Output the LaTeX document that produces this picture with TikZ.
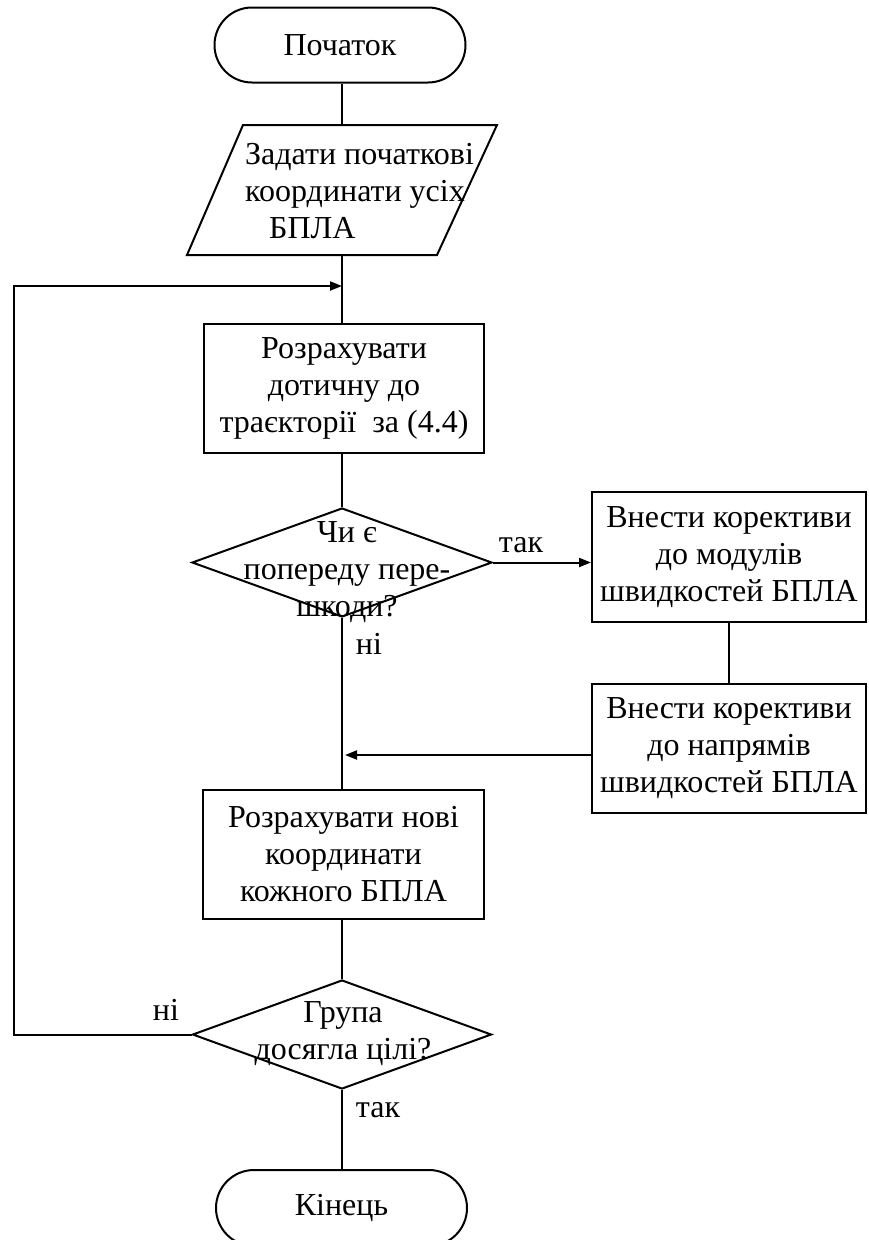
\documentclass[tikz,border=0pt]{standalone}
\usepackage{fontspec}
\setmainfont{Liberation Serif}
\newfontfamily\tnr{Liberation Serif}
\usetikzlibrary{shapes.geometric,shapes.misc,arrows.meta}
\begin{document}
\begin{tikzpicture}[x=1pt,y=-1pt,
  every node/.style={font=\tnr\fontsize{32}{37}\selectfont},
  line/.style={line width=2pt},
  arr/.style={line width=2pt,-{Triangle[length=12pt,width=9pt]}},
  term/.style={rounded rectangle,draw,line width=2pt,minimum width=251pt,minimum height=75pt,inner sep=0pt},
  proc/.style={rectangle,draw,line width=2pt,align=center,inner sep=0pt},
  dia/.style={diamond,draw,line width=2pt,inner sep=0pt},
  txt/.style={align=center,inner sep=0pt},
  lbl/.style={inner sep=0pt}]
\useasboundingbox (0,0) rectangle (868,1240);
% start
\node[term] (start) at (340,45) {Початок};
% input/output parallelogram
\draw[line] (243,125) -- (497,125) -- (437,255) -- (187,255) -- cycle;
\coordinate (iotop) at (342,125);
\coordinate (iobot) at (342,255);
\node[txt,align=left,anchor=west] (iotext) at (245,191) {Задати початкові\\координати усіх\\\hspace*{24pt}БПЛА};
% process 1
\node[proc,minimum width=280pt,minimum height=129pt] (r1) at (344,388.5) {Розрахувати\\дотичну до\\траєкторії\ \ за (4.4)};
% decision 1
\node[dia,minimum width=300pt,minimum height=109pt] (d1) at (342,562.5) {};
\node[txt] (d1text) at (347,572) {Чи є\\попереду пере-\\шкоди?};
% process 2 and 3
\node[proc,minimum width=274pt,minimum height=130pt] (r2) at (729,557) {Внести корективи\\до модулів\\швидкостей БПЛА};
\node[proc,minimum width=274pt,minimum height=129pt] (r3) at (729,748.5) {Внести корективи\\до напрямів\\швидкостей БПЛА};
% process 4
\node[proc,minimum width=281pt,minimum height=129pt] (r4) at (343.5,854.5) {Розрахувати нові\\координати\\кожного БПЛА};
% decision 2
\node[dia,minimum width=299pt,minimum height=109pt] (d2) at (342,1034.5) {};
\node[txt] (d2text) at (343,1034) {Група\\досягла цілі?};
% end
\node[term,minimum height=76pt] (end) at (341.5,1208) {Кінець};
% coordinates
\coordinate (fbl) at (14,286);
\coordinate (j0) at (342,286);
\coordinate (j1) at (345,755);
% connectors
\draw[line] (start.south -| iotop) -- (iotop);
\draw[line] (iobot) -- (r1.north -| iobot);
\draw[line] (r1.south -| d1.north) -- (d1.north);
\draw[arr] (d1.east) -- (d1.east -| r2.west);
\draw[line] (r2.south) -- (r3.north);
\draw[arr] (r3.west |- j1) -- (j1);
\draw[line] (d1.south) -- (d1.south |- r4.north);
\draw[line] (r4.south -| d2.north) -- (d2.north);
\draw[line] (d2.south) -- (d2.south |- end.north);
\draw[arr] (d2.west) -| (fbl) -- (j0);
% labels
\node[lbl] (l1) at (521,545) {так};
\node[lbl] (l2) at (369,644) {ні};
\node[lbl] (l3) at (166,1010) {ні};
\node[lbl] (l4) at (378,1110) {так};
\end{tikzpicture}
\end{document}
